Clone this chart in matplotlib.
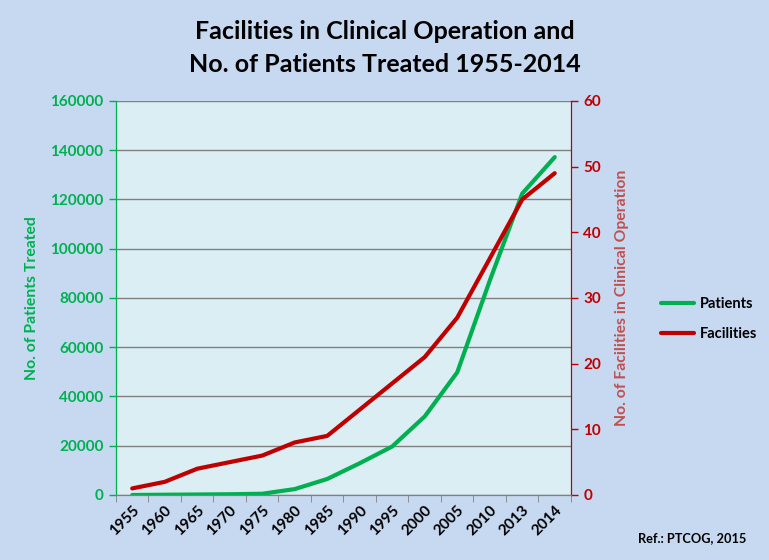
import matplotlib.pyplot as plt
import numpy as np

plt.rcParams["font.family"] = ["Lato", "DejaVu Sans"]

# =========================
# DATOS
# =========================

years = ["1955", "1960", "1965", "1970", "1975", "1980", "1985",
         "1990", "1995", "2000", "2005", "2010", "2013", "2014"]
patients = [0, 100, 200, 300, 500, 2400, 6500,
            12900, 19700, 31900, 49800, 87000, 122400, 137200]
facilities = [1, 2, 4, 5, 6, 8, 9,
              13, 17, 21, 27, 36, 45, 49]

BG = "#C6D9F1"
PLOT_BG = "#DBEEF4"
GREEN = "#00B050"
RED = "#C00000"
RED_LABEL = "#C0504D"

fig = plt.figure(figsize=(7.69, 5.60), dpi=100, facecolor=BG)
ax = fig.add_axes([0.1508, 0.1161, 0.5917, 0.7036], facecolor=PLOT_BG)
ax2 = ax.twinx()

x = np.arange(len(years))

ax.set_ylim(0, 160000)
ax.set_yticks(np.arange(0, 160001, 20000))
ax.grid(axis="y", color="#808080", linewidth=1)
ax.set_axisbelow(True)
ax.set_xlim(-0.5, len(years) - 0.5)

ax2.set_ylim(0, 60)
ax2.set_yticks(np.arange(0, 61, 10))

lp, = ax.plot(x, patients, color=GREEN, linewidth=3, solid_capstyle="round", zorder=3)
lf, = ax2.plot(x, facilities, color=RED, linewidth=3, solid_capstyle="round", zorder=3)

# ticks de categoria entre puntos
ax.set_xticks(np.arange(-0.5, len(years), 1.0), minor=True)
ax.set_xticks(x)
ax.set_xticklabels(years, rotation=45, ha="right", va="top", rotation_mode="anchor",
                   fontsize=11, fontweight="bold", color="black")
ax.tick_params(axis="x", which="major", length=0, pad=6)
ax.tick_params(axis="x", which="minor", length=5, color="#808080")

ax.tick_params(axis="y", colors=GREEN, labelsize=11, length=5, width=1, pad=4)
for t in ax.get_yticklabels():
    t.set_fontweight("bold")
ax2.tick_params(axis="y", colors=RED, labelsize=11, length=5, width=1, pad=4)
for t in ax2.get_yticklabels():
    t.set_fontweight("bold")

for a in (ax, ax2):
    a.spines["top"].set_visible(False)
    a.spines["bottom"].set_color("#808080")
    a.spines["left"].set_color(GREEN)
    a.spines["right"].set_color(RED)

ax.set_ylabel("No. of Patients Treated", color=GREEN, fontsize=11.3, fontweight="bold", labelpad=8)
ax2.set_ylabel("No. of Facilities in Clinical Operation", color=RED_LABEL, fontsize=11.3,
               fontweight="bold", labelpad=10)

fig.text(0.5, 0.943, "Facilities in Clinical Operation and", ha="center", va="center",
         fontsize=18, fontweight="bold")
fig.text(0.5, 0.884, "No. of Patients Treated 1955-2014", ha="center", va="center",
         fontsize=18, fontweight="bold")

fig.legend([lp, lf], ["Patients", "Facilities"], loc="center left",
           bbox_to_anchor=(0.842, 0.43), frameon=False,
           prop={"weight": "bold", "size": 10.5}, handlelength=2.3, handletextpad=0.4,
           labelspacing=1.1)

fig.text(0.97, 0.04, "Ref.: PTCOG, 2015", ha="right", va="center", fontsize=9.2, fontweight="bold")

fig.savefig("out.png", dpi=100, facecolor=BG)
